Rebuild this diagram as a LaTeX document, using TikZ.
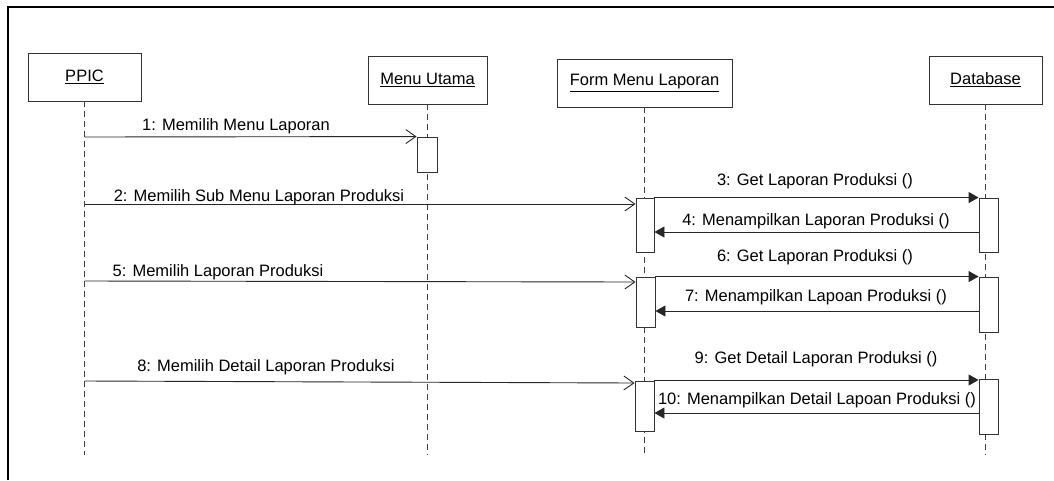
\documentclass[tikz,border=0pt]{standalone}
\usepackage{fontspec}
\setmainfont{Liberation Sans}
\usetikzlibrary{arrows.meta}

\tikzset{
  every node/.style={font=\fontsize{16.5}{20}\selectfont, inner sep=0pt},
  object/.style={draw=black!80, line width=0.9pt, fill=white, minimum height=48pt},
  lifeline/.style={draw=black!75, line width=0.8pt, dash pattern=on 6pt off 4pt},
  act/.style={draw=black!80, line width=0.9pt, fill=white},
  callmsg/.style={draw=black!85, line width=0.9pt, -{Straight Barb[length=10pt,width=14pt]}},
  syncmsg/.style={draw=black!85, line width=0.9pt, -{Triangle[length=10pt,width=11pt]}},
  label/.style={text=black}
}

\begin{document}
\begin{tikzpicture}[x=1pt, y=-1pt]
\useasboundingbox (0,0) rectangle (1054,480);

% outer frame (top and left edges)
\draw[line width=2.2pt, black] (8,480) -- (8,7) -- (1054,7);

% objects
\node[object, minimum width=113pt] (ppic) at (84.5,77)  {\underline{PPIC}};
\node[object, minimum width=119pt] (menu) at (427.5,80) {\underline{Menu Utama}};
\node[object, minimum width=175pt] (form) at (644.5,83) {\underline{Form Menu Laporan}};
\node[object, minimum width=113pt] (db)   at (985.5,80) {\underline{Database}};

% lifelines
\draw[lifeline] (ppic.south) -- (ppic.south |- 0,455);
\draw[lifeline] (menu.south) -- (menu.south |- 0,455);
\draw[lifeline] (form.south) -- (form.south |- 0,455);
\draw[lifeline] (db.south)   -- (db.south |- 0,455);

% activation bars
\node[act, minimum width=20pt, minimum height=35pt] (m1) at (427,154.5) {};
\node[act, minimum width=18pt, minimum height=54pt] (f1) at (645,225)   {};
\node[act, minimum width=19pt, minimum height=54pt] (d1) at (988.5,225) {};
\node[act, minimum width=19pt, minimum height=50pt] (f2) at (645.5,302) {};
\node[act, minimum width=19pt, minimum height=55pt] (d2) at (988.5,304.5) {};
\node[act, minimum width=19pt, minimum height=50pt] (f3) at (644.5,406) {};
\node[act, minimum width=19pt, minimum height=55pt] (d3) at (988.5,406.5) {};

% messages
\draw[callmsg] (ppic.south |- 0,137) -- (m1.north west);
\draw[callmsg] (ppic.south |- 0,204) -- (f1.west |- 0,204);
\draw[syncmsg] (f1.north east) -- (d1.north west);
\draw[syncmsg] (d1.west |- 0,232) -- (f1.east |- 0,232);
\draw[callmsg] (ppic.south |- 0,281) -- (f2.west |- 0,282);
\draw[syncmsg] (f2.north east) -- (d2.north west);
\draw[syncmsg] (d2.west |- 0,311) -- (f2.east |- 0,311);
\draw[callmsg] (ppic.south |- 0,381) -- (f3.west |- 0,383);
\draw[syncmsg] (f3.east |- 0,380) -- (d3.west |- 0,380);
\draw[syncmsg] (d3.west |- 0,413) -- (f3.east |- 0,413);

% message labels
\node[label] (l1)  at (236,126) {1: Memilih Menu Laporan};
\node[label] (l2)  at (259,197) {2: Memilih Sub Menu Laporan Produksi};
\node[label] (l3)  at (815,181) {3: Get Laporan Produksi ()};
\node[label] (l4)  at (816,221) {4: Menampilkan Laporan Produksi ()};
\node[label] (l5)  at (218,272) {5: Memilih Laporan Produksi};
\node[label] (l6)  at (815,257) {6: Get Laporan Produksi ()};
\node[label] (l7)  at (816,297) {7: Menampilkan Lapoan Produksi ()};
\node[label] (l8)  at (266,367) {8: Memilih Detail Laporan Produksi};
\node[label] (l9)  at (816,359) {9: Get Detail Laporan Produksi ()};
\node[label] (l10) at (817,400) {10: Menampilkan Detail Lapoan Produksi ()};
\end{tikzpicture}
\end{document}
